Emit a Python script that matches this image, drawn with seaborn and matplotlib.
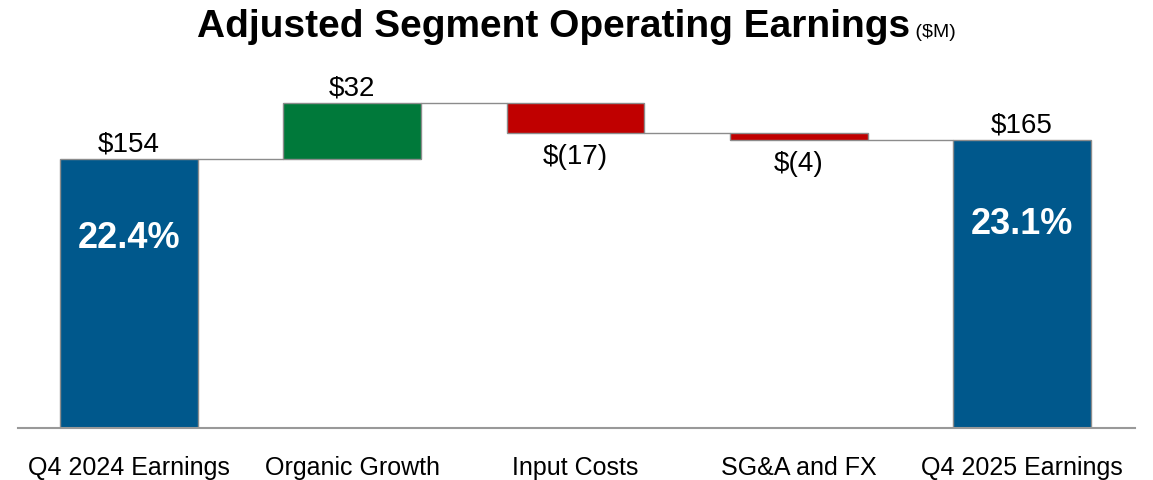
import matplotlib
matplotlib.use('Agg')
import matplotlib.pyplot as plt
import seaborn as sns
import numpy as np

categories = ['Q4 2024 Earnings', 'Organic Growth', 'Input Costs', 'SG&A and FX', 'Q4 2025 Earnings']
values = [154, 32, -17, -4, 165]
labels = ['$154', '$32', '$(17)', '$(4)', '$165']
margins = ['22.4%', None, None, None, '23.1%']
is_total = [True, False, False, False, True]

blue = '#00588C'
green = '#00793A'
red = '#C00000'

sns.set_style('white')
plt.rcParams['font.family'] = ['Liberation Sans', 'DejaVu Sans']
plt.rcParams['text.color'] = 'black'
plt.rcParams['xtick.color'] = 'black'

# waterfall geometry from the values
bottoms, heights, tops = [], [], []
level = 0
for v, tot in zip(values, is_total):
    if tot:
        bottoms.append(0)
        heights.append(v)
        level = v
    else:
        new = level + v
        bottoms.append(min(level, new))
        heights.append(abs(v))
        level = new
    tops.append(level)
colors = [blue if t else (green if v > 0 else red) for v, t in zip(values, is_total)]

fig = plt.figure(figsize=(11.53, 4.8), dpi=100)
ax = fig.add_axes([18 / 1153, 52 / 480, 1117 / 1153, 368 / 480])

sns.barplot(x=categories, y=heights, bottom=bottoms, width=0.618, ax=ax,
            color=blue, saturation=1, edgecolor='#8c8c8c', linewidth=1)
for p, c in zip(ax.patches, colors):
    p.set_facecolor(c)

# connectors
w = 0.618
for i in range(len(values) - 1):
    ax.plot([i + w / 2, i + 1 - w / 2], [tops[i], tops[i]], color='#8c8c8c', lw=1, zorder=1)

# value labels
for i, (v, lab) in enumerate(zip(values, labels)):
    if v >= 0:
        ax.annotate(lab, (i, bottoms[i] + heights[i]), xytext=(0, 1), textcoords='offset points',
                    ha='center', va='bottom', fontsize=20, color='black')
    else:
        ax.annotate(lab, (i, bottoms[i]), xytext=(0, -8), textcoords='offset points',
                    ha='center', va='top', fontsize=20, color='black')

for i, m in enumerate(margins):
    if m:
        ax.text(i, heights[i] * 0.705, m, ha='center', va='center', color='white',
                fontsize=26, fontweight='bold')

ax.set_xlim(-0.497, 4.506)
ax.set_ylim(0, 210.6)
ax.set_yticks([])
for s in ['top', 'right', 'left']:
    ax.spines[s].set_visible(False)
ax.spines['bottom'].set_color('#999999')
ax.spines['bottom'].set_linewidth(1.5)
ax.tick_params(axis='x', length=0, pad=20, labelsize=18, labelcolor='black')
ax.set_xlabel('')

# title with small unit suffix
t1 = fig.text(0.5, 0.948, 'Adjusted Segment Operating Earnings', ha='left', va='baseline',
              fontsize=28, fontweight='bold', color='black',
              family=['Liberation Sans Narrow', 'Liberation Sans'])
t2 = fig.text(0.5, 0.948, ' ($M)', ha='left', va='baseline', fontsize=14, color='black')
fig.canvas.draw()
r = fig.canvas.get_renderer()
w1 = t1.get_window_extent(r).width
w2 = t2.get_window_extent(r).width
x0 = (1153 - w1 - w2) / 2
t1.set_x(x0 / 1153)
t1.set_y(1 - 37 / 480)
t2.set_x((x0 + w1) / 1153)
t2.set_y(1 - 37 / 480)

fig.savefig('out.png', dpi=100)
